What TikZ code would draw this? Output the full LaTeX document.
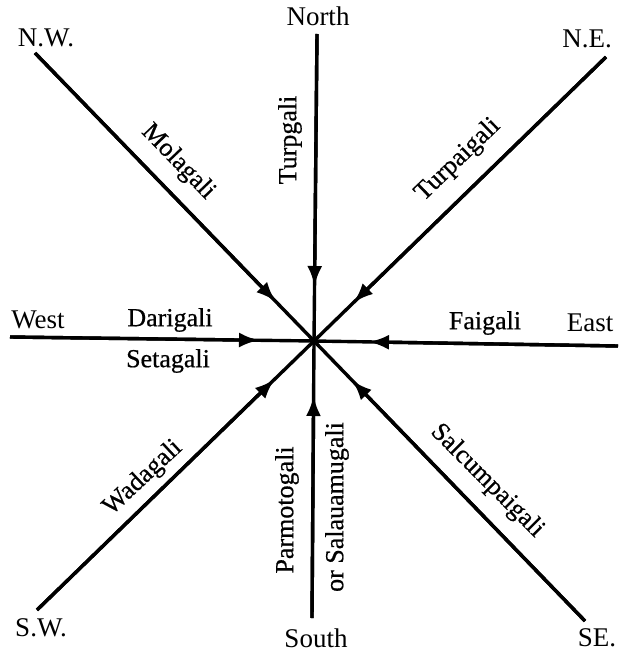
\documentclass[tikz,border=0pt]{standalone}
\usepackage{fontspec}
\setmainfont{Liberation Serif}
\newfontfamily\namefont[FakeBold=0.6]{Liberation Serif}
\usetikzlibrary{calc,arrows.meta}
\begin{document}
\begin{tikzpicture}[x=1pt,y=-1pt,
  ln/.style={line width=3.4pt},
  arr/.style={line width=3.4pt,-{Latex[length=20pt,width=15pt]}},
  card/.style={font=\fontsize{27}{30}\selectfont,inner sep=0pt},
  nm/.style={font=\namefont\fontsize{26}{29}\selectfont,inner sep=0pt}]
\useasboundingbox (0,0) rectangle (618,652);
% end points
\coordinate (C) at (314,341);
\coordinate (pN) at (317,34);
\coordinate (pNW) at (35,53);
\coordinate (pNE) at (606,57);
\coordinate (pW) at (10,337);
\coordinate (pE) at (618,346);
\coordinate (pSW) at (37,610);
\coordinate (pS) at (312,618);
\coordinate (pSE) at (585,621);
% lines
\foreach \p in {pN,pNW,pNE,pW,pE,pSW,pS,pSE}{
  \draw[ln] (\p) -- (C);
  \draw[arr] (\p) -- ($(C)!55pt!(\p)$);
}
\fill (C) circle (4pt);
% compass labels
\node[card] (tN) at (318,16) {North};
\node[card] (tNW) at (46,38) {N.W.};
\node[card] (tNE) at (587,39) {N.E.};
\node[card] (tW) at (38,320) {West};
\node[card] (tE) at (590,323) {East};
\node[card] (tSW) at (41,628) {S.W.};
\node[card] (tS) at (316,638) {South};
\node[card] (tSE) at (597,638) {SE.};
% direction names
\node[nm,rotate=90] (lN) at (290,140) {Turpgali};
\node[nm,rotate=-46] (lNW) at (178,162) {Molagali};
\node[nm,rotate=44] (lNE) at (458,160) {Turpaigali};
\node[nm] (lW1) at (170,320) {Darigali};
\node[nm] (lW2) at (168,361) {Setagali};
\node[nm] (lE) at (485,323) {Faigali};
\node[nm,rotate=43] (lSW) at (143,478) {Wadagali};
\node[nm,rotate=90] (lS1) at (287,510) {Parmotogali};
\node[nm,rotate=90] (lS2) at (337,507) {or Salauamugali};
\node[nm,rotate=-45] (lSE) at (487,481) {Salcumpaigali};
\end{tikzpicture}
\end{document}
